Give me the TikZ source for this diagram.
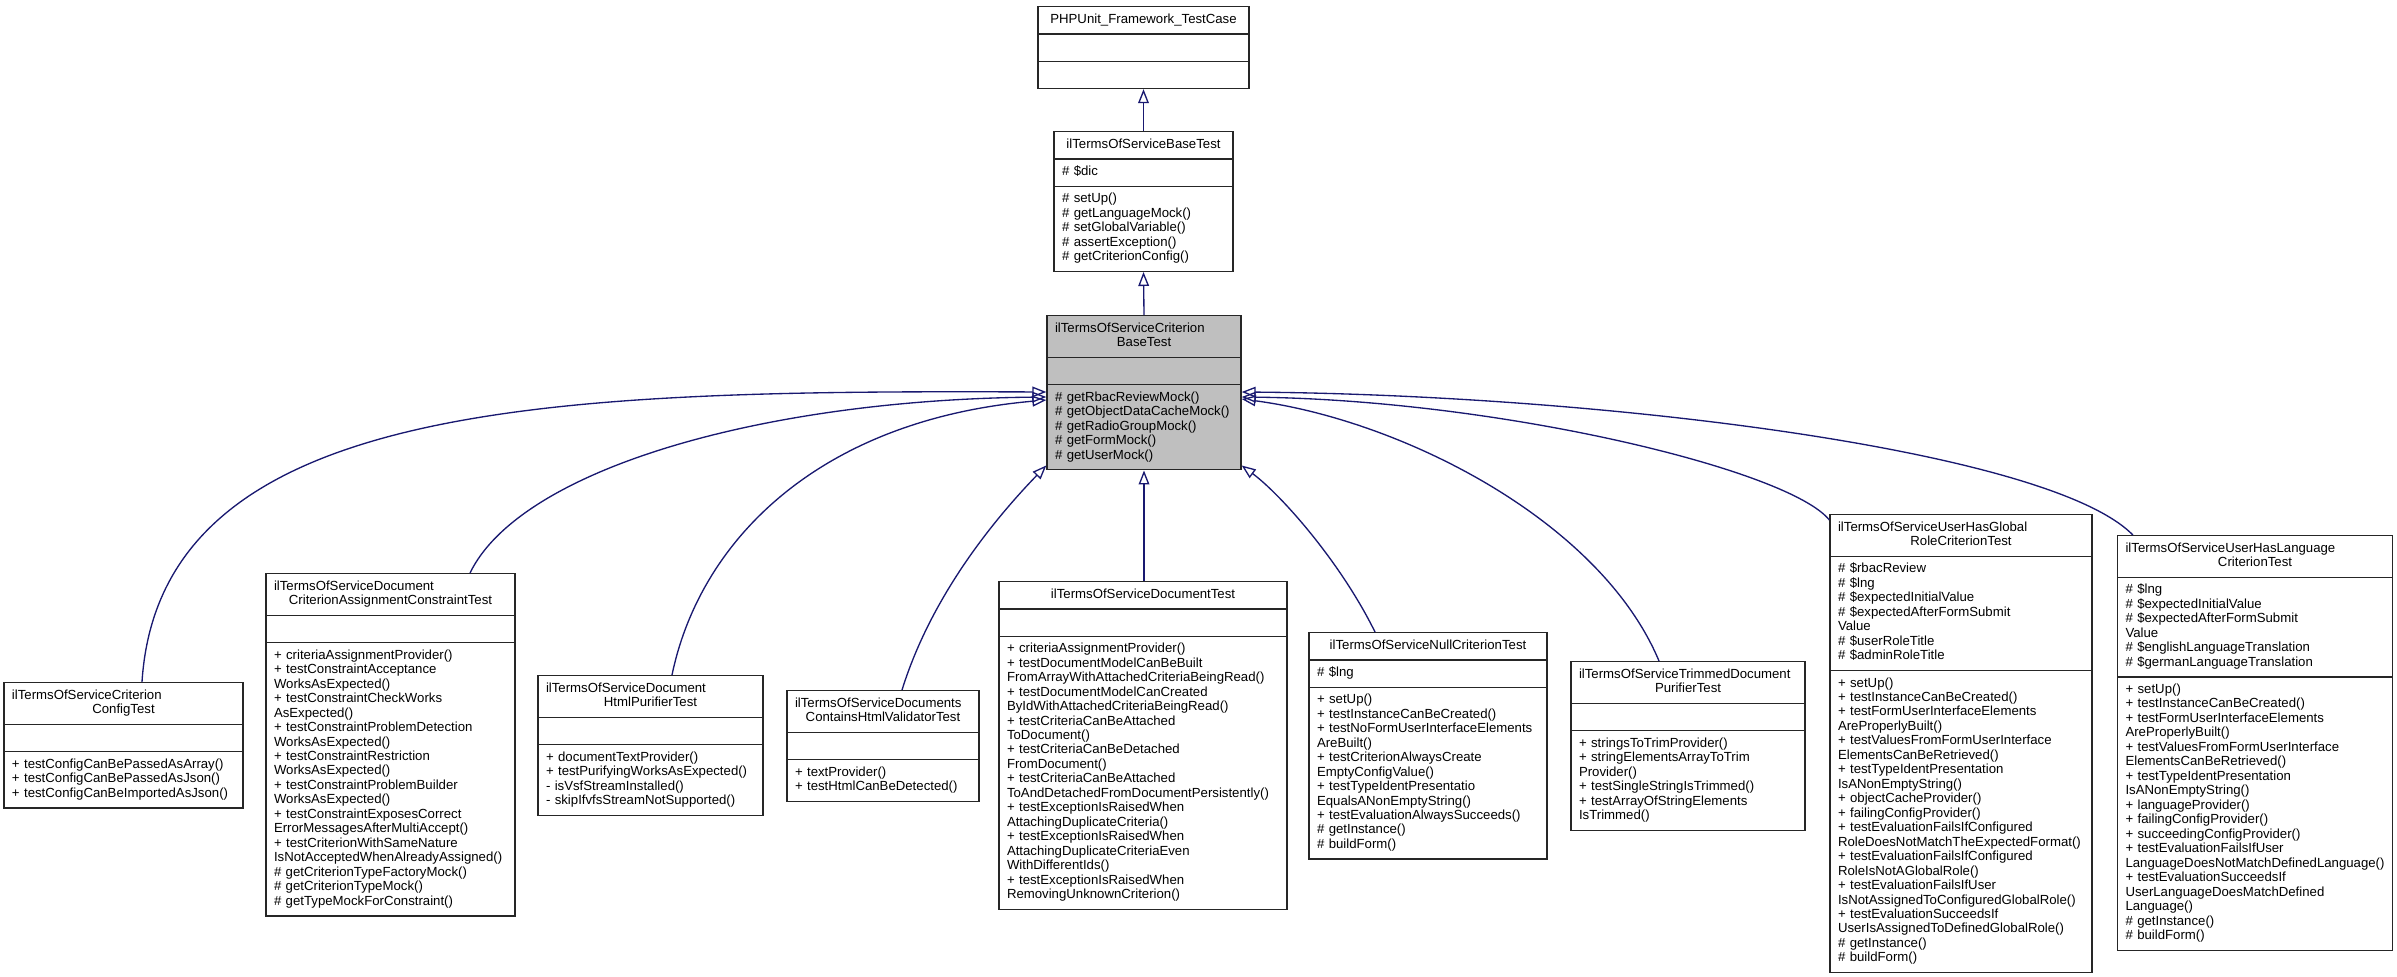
\documentclass[tikz,border=0pt]{standalone}
\usepackage{fontspec}
\setmainfont{Liberation Sans}
\usetikzlibrary{shapes.multipart}
\usetikzlibrary{arrows.meta}
\usetikzlibrary{calc}

\definecolor{edgeblue}{RGB}{25,25,112}
\hyphenpenalty=10000
\exhyphenpenalty=10000

\begin{document}
\begin{tikzpicture}[x=0.75pt, y=-0.75pt,
umlclass/.style={rectangle split, rectangle split parts=3, draw=black!85, line width=1pt,
  fill=white, anchor=north, align=left, inner xsep=6pt, inner ysep=4.3pt,
  font=\fontsize{9.9}{10.85}\selectfont,
  rectangle split empty part height=7.6pt, rectangle split empty part depth=3.25pt,
  execute at begin node=\strut, execute at end node=\strut},
umlbase/.style={umlclass, fill=black!25},
inherit/.style={draw=edgeblue, line width=1pt, -{Triangle[open, length=10.5pt, width=8pt]}}]
\useasboundingbox (0,0) rectangle (2397,977);

\node[umlclass, text width=146.25pt] (phpunit) at (1143.5,6) {\makebox[\hsize]{PHPUnit\_Framework\_TestCase}%
\nodepart{second}%
\nodepart{third}};
\node[umlclass, text width=122.25pt] (basetest) at (1143.5,131) {\makebox[\hsize]{ilTermsOfServiceBaseTest}%
\nodepart{second}\# \$dic%
\nodepart{third}\# setUp()\\\# getLanguageMock()\\\# setGlobalVariable()\\\# assertException()\\\# getCriterionConfig()};
\node[umlbase, text width=133.5pt] (critbase) at (1144,315) {ilTermsOfServiceCriterion\\\makebox[\hsize]{BaseTest}%
\nodepart{second}%
\nodepart{third}\# getRbacReviewMock()\\\# getObjectDataCacheMock()\\\# getRadioGroupMock()\\\# getFormMock()\\\# getUserMock()};

\node[umlclass, text width=167.25pt] (cfgtest) at (123.5,682) {ilTermsOfServiceCriterion\\\makebox[\hsize]{ConfigTest}%
\nodepart{second}%
\nodepart{third}+ testConfigCanBePassedAsArray()\\+ testConfigCanBePassedAsJson()\\+ testConfigCanBeImportedAsJson()};
\node[umlclass, text width=174.75pt] (assigntest) at (390.5,573) {ilTermsOfServiceDocument\\\makebox[\hsize]{CriterionAssignmentConstraintTest}%
\nodepart{second}%
\nodepart{third}+ criteriaAssignmentProvider()\\+ testConstraintAcceptance\\WorksAsExpected()\\+ testConstraintCheckWorks\\AsExpected()\\+ testConstraintProblemDetection\\WorksAsExpected()\\+ testConstraintRestriction\\WorksAsExpected()\\+ testConstraintProblemBuilder\\WorksAsExpected()\\+ testConstraintExposesCorrect\\ErrorMessagesAfterMultiAccept()\\+ testCriterionWithSameNature\\IsNotAcceptedWhenAlreadyAssigned()\\\# getCriterionTypeFactoryMock()\\\# getCriterionTypeMock()\\\# getTypeMockForConstraint()};
\node[umlclass, text width=156.75pt] (purifiertest) at (650.5,675) {ilTermsOfServiceDocument\\\makebox[\hsize]{HtmlPurifierTest}%
\nodepart{second}%
\nodepart{third}+ documentTextProvider()\\+ testPurifyingWorksAsExpected()\\- isVsfStreamInstalled()\\- skipIfvfsStreamNotSupported()};
\node[umlclass, text width=132pt] (validatortest) at (883,690) {ilTermsOfServiceDocuments\\\makebox[\hsize]{ContainsHtmlValidatorTest}%
\nodepart{second}%
\nodepart{third}+ textProvider()\\+ testHtmlCanBeDetected()};
\node[umlclass, text width=204pt] (doctest) at (1143,581) {\makebox[\hsize]{ilTermsOfServiceDocumentTest}%
\nodepart{second}%
\nodepart{third}+ criteriaAssignmentProvider()\\+ testDocumentModelCanBeBuilt\\FromArrayWithAttachedCriteriaBeingRead()\\+ testDocumentModelCanCreated\\ByIdWithAttachedCriteriaBeingRead()\\+ testCriteriaCanBeAttached\\ToDocument()\\+ testCriteriaCanBeDetached\\FromDocument()\\+ testCriteriaCanBeAttached\\ToAndDetachedFromDocumentPersistently()\\+ testExceptionIsRaisedWhen\\AttachingDuplicateCriteria()\\+ testExceptionIsRaisedWhen\\AttachingDuplicateCriteriaEven\\WithDifferentIds()\\+ testExceptionIsRaisedWhen\\RemovingUnknownCriterion()};
\node[umlclass, text width=166.5pt] (nulltest) at (1428,632) {\makebox[\hsize]{ilTermsOfServiceNullCriterionTest}%
\nodepart{second}\# \$lng%
\nodepart{third}+ setUp()\\+ testInstanceCanBeCreated()\\+ testNoFormUserInterfaceElements\\AreBuilt()\\+ testCriterionAlwaysCreate\\EmptyConfigValue()\\+ testTypeIdentPresentatio\\EqualsANonEmptyString()\\+ testEvaluationAlwaysSucceeds()\\\# getInstance()\\\# buildForm()};
\node[umlclass, text width=163.5pt] (trimtest) at (1688,661) {ilTermsOfServiceTrimmedDocument\\\makebox[\hsize]{PurifierTest}%
\nodepart{second}%
\nodepart{third}+ stringsToTrimProvider()\\+ stringElementsArrayToTrim\\Provider()\\+ testSingleStringIsTrimmed()\\+ testArrayOfStringElements\\IsTrimmed()};
\node[umlclass, text width=184.5pt] (globaltest) at (1961,514) {ilTermsOfServiceUserHasGlobal\\\makebox[\hsize]{RoleCriterionTest}%
\nodepart{second}\# \$rbacReview\\\# \$lng\\\# \$expectedInitialValue\\\# \$expectedAfterFormSubmit\\Value\\\# \$userRoleTitle\\\# \$adminRoleTitle%
\nodepart{third}+ setUp()\\+ testInstanceCanBeCreated()\\+ testFormUserInterfaceElements\\AreProperlyBuilt()\\+ testValuesFromFormUserInterface\\ElementsCanBeRetrieved()\\+ testTypeIdentPresentation\\IsANonEmptyString()\\+ objectCacheProvider()\\+ failingConfigProvider()\\+ testEvaluationFailsIfConfigured\\RoleDoesNotMatchTheExpectedFormat()\\+ testEvaluationFailsIfConfigured\\RoleIsNotAGlobalRole()\\+ testEvaluationFailsIfUser\\IsNotAssignedToConfiguredGlobalRole()\\+ testEvaluationSucceedsIf\\UserIsAssignedToDefinedGlobalRole()\\\# getInstance()\\\# buildForm()};
\node[umlclass, text width=194.25pt] (langtest) at (2255,535) {ilTermsOfServiceUserHasLanguage\\\makebox[\hsize]{CriterionTest}%
\nodepart{second}\# \$lng\\\# \$expectedInitialValue\\\# \$expectedAfterFormSubmit\\Value\\\# \$englishLanguageTranslation\\\# \$germanLanguageTranslation%
\nodepart{third}+ setUp()\\+ testInstanceCanBeCreated()\\+ testFormUserInterfaceElements\\AreProperlyBuilt()\\+ testValuesFromFormUserInterface\\ElementsCanBeRetrieved()\\+ testTypeIdentPresentation\\IsANonEmptyString()\\+ languageProvider()\\+ failingConfigProvider()\\+ succeedingConfigProvider()\\+ testEvaluationFailsIfUser\\LanguageDoesNotMatchDefinedLanguage()\\+ testEvaluationSucceedsIf\\UserLanguageDoesMatchDefined\\Language()\\\# getInstance()\\\# buildForm()};

\draw[inherit] (basetest.north) -- (phpunit.south);
\draw[inherit] (critbase.north) -- (basetest.south);
\draw[inherit] ($(cfgtest.north)+(18.5,0)$) .. controls +(18,-282) and +(-497,-2) .. ($(critbase.north west)+(0,77)$);
\draw[inherit] ($(assigntest.north)+(79.5,0)$) .. controls +(50,-103) and +(-287,3) .. ($(critbase.north west)+(0,82)$);
\draw[inherit] ($(purifiertest.north)+(21.5,0)$) .. controls +(28,-135) and +(-227,20) .. ($(critbase.north west)+(0,85)$);
\draw[inherit] ($(validatortest.north)+(19,0)$) .. controls +(28,-90) and +(-57,59) .. ($(critbase.south west)+(0,-5)$);
\draw[inherit] (critbase.south |- doctest.north) -- (critbase.south);
\draw[inherit] ($(nulltest.north)+(-53,0)$) .. controls +(-35,-71) and +(39,29) .. ($(critbase.south east)+(0,-5)$);
\draw[inherit] ($(trimtest.north)+(-29,0)$) .. controls +(-59,-141) and +(159,21) .. ($(critbase.north east)+(0,84)$);
\draw[inherit] ($(globaltest.north west)+(0,6)$) .. controls +(-40,-50) and +(259,3) .. ($(critbase.north east)+(0,82)$);
\draw[inherit] ($(langtest.north west)+(16,0)$) .. controls +(-83,-85) and +(359,3) .. ($(critbase.north east)+(0,77)$);
\end{tikzpicture}
\end{document}
